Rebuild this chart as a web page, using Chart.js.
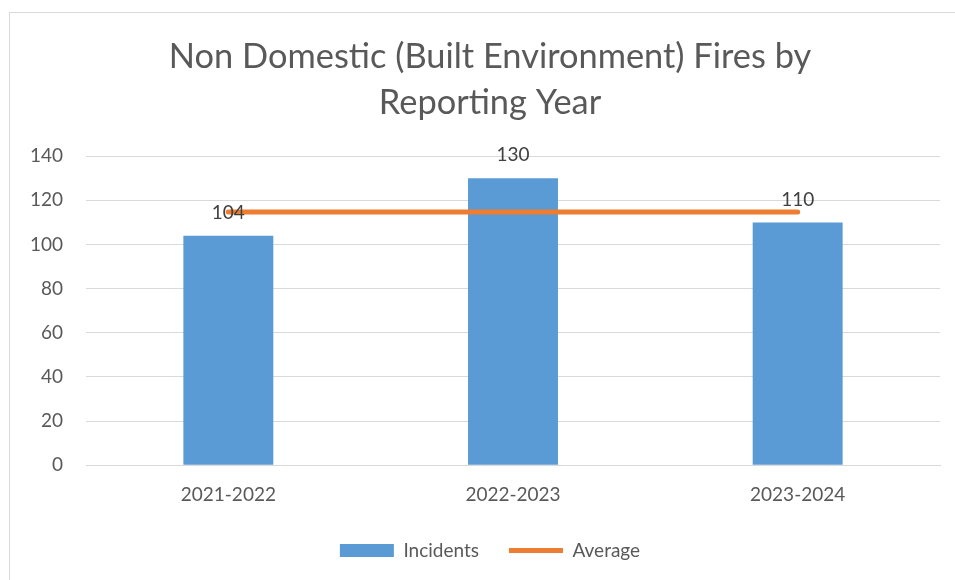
<!DOCTYPE html>
<html lang="en">
<head>
    <meta charset="UTF-8">
    <title>Non Domestic (Built Environment) Fires by Reporting Year</title>
    <style>
        body {
            margin: 0;
            padding: 0;
            background-color: #fff;
            overflow: hidden;
        }
        .frame {
            position: absolute;
            left: 9px;
            top: 12px;
            width: 960px;
            height: 600px;
            border: 1px solid #d9d9d9;
        }
        .chart-container {
            position: absolute;
            left: 0;
            top: 0;
            width: 955px;
            height: 580px;
        }
    </style>
    <script src="https://cdn.jsdelivr.net/npm/chart.js"></script>
</head>
<body>
    <div class="frame"></div>
    <div class="chart-container">
        <canvas id="firesChart"></canvas>
    </div>

    <script>
        // Chart data
        const years = ['2021-2022', '2022-2023', '2023-2024'];
        const incidents = [104, 130, 110];
        const average = [114.67, 114.67, 114.67];
        const yTicks = [0, 20, 40, 60, 80, 100, 120, 140];

        const textColor = '#595959';
        const fontFamily = 'Lato, "Open Sans", sans-serif';

        // Value labels above the bars; also widen the y label clip box
        const barLabels = {
            id: 'barLabels',
            afterLayout(chart) {
                chart.scales.y.left = 0;
            },
            afterDatasetsDraw(chart) {
                const ctx = chart.ctx;
                const meta = chart.getDatasetMeta(0);
                ctx.save();
                ctx.font = '19px ' + fontFamily;
                ctx.fillStyle = '#404040';
                ctx.textAlign = 'center';
                ctx.textBaseline = 'middle';
                meta.data.forEach((bar, i) => {
                    ctx.fillText(String(incidents[i]), bar.x, bar.y - 23);
                });
                ctx.restore();
            }
        };

        const ctx = document.getElementById('firesChart').getContext('2d');
        new Chart(ctx, {
            data: {
                labels: years,
                datasets: [
                    {
                        type: 'bar',
                        label: 'Incidents',
                        data: incidents,
                        backgroundColor: '#5B9BD5',
                        barPercentage: 0.316,
                        categoryPercentage: 1,
                        pointStyle: 'rect',
                        borderWidth: 0,
                        order: 1
                    },
                    {
                        type: 'line',
                        label: 'Average',
                        data: average,
                        borderColor: '#ED7D31',
                        backgroundColor: '#ED7D31',
                        borderWidth: 5,
                        borderCapStyle: 'round',
                        pointRadius: 0,
                        pointStyle: 'line',
                        order: 0
                    }
                ]
            },
            options: {
                responsive: true,
                maintainAspectRatio: false,
                animation: false,
                layout: {
                    padding: { left: 40, right: 15, top: 12, bottom: 10 }
                },
                scales: {
                    x: {
                        afterFit(scale) { scale.height -= 5; },
                        grid: { display: false },
                        border: { color: '#d9d9d9' },
                        ticks: {
                            color: textColor,
                            font: { family: fontFamily, size: 19 },
                            padding: 10
                        }
                    },
                    y: {
                        min: 0,
                        max: 140,
                        afterFit(scale) { scale.width = 46; },
                        afterBuildTicks(scale) {
                            scale.ticks = yTicks.map(v => ({ value: v }));
                        },
                        grid: { color: '#d9d9d9', drawTicks: false },
                        border: { display: false },
                        ticks: {
                            color: textColor,
                            font: { family: fontFamily, size: 19 },
                            padding: 23
                        }
                    }
                },
                plugins: {
                    title: {
                        display: true,
                        text: ['Non Domestic (Built Environment) Fires by', 'Reporting Year'],
                        color: textColor,
                        font: { family: fontFamily, size: 34.4, weight: 'normal', lineHeight: 1.34 },
                        padding: { top: 22, bottom: 30 }
                    },
                    legend: {
                        position: 'bottom',
                        labels: {
                            sort: (a, b) => a.datasetIndex - b.datasetIndex,
                            color: textColor,
                            font: { family: fontFamily, size: 19 },
                            usePointStyle: true,
                            pointStyleWidth: 54,
                            boxHeight: 13,
                            padding: 30
                        }
                    },
                    tooltip: { enabled: false }
                }
            },
            plugins: [barLabels]
        });
    </script>
</body>
</html>
